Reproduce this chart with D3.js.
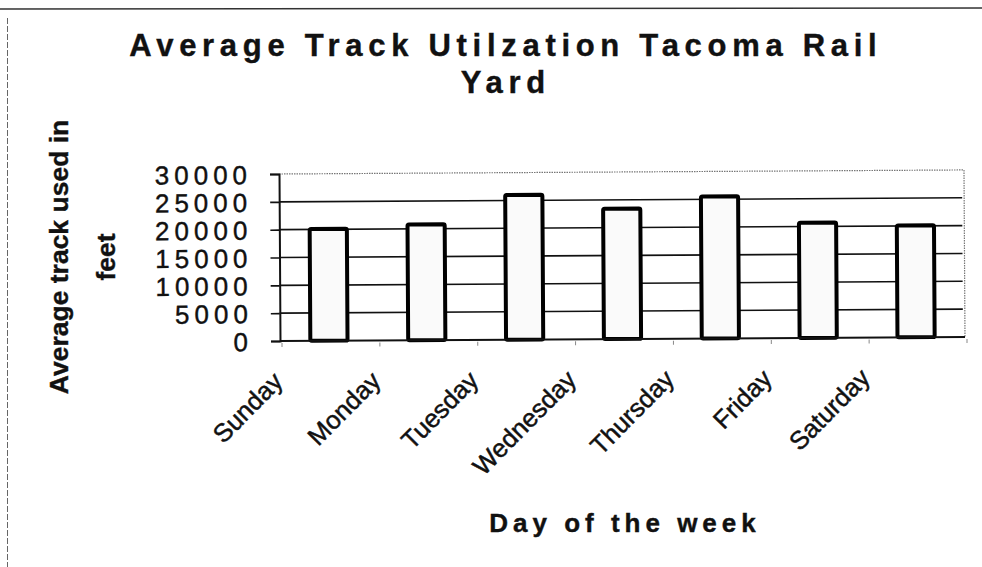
<!DOCTYPE html>
<html>
<head>
<meta charset="utf-8">
<script src="https://cdn.jsdelivr.net/npm/d3@7"></script>
<style>
  html, body { margin: 0; padding: 0; background: #ffffff; }
  svg { display: block; }
  text { font-family: "Liberation Sans", Arial, sans-serif; fill: #111; }
</style>
</head>
<body>
<script>
// ---- data ----
const categories = ["Sunday", "Monday", "Tuesday", "Wednesday", "Thursday", "Friday", "Saturday"];
const values = [20100, 20800, 26000, 23400, 25500, 20700, 20100];
const yTicks = [0, 5000, 10000, 15000, 20000, 25000, 30000];
const titleLines = ["Average Track Utilzation Tacoma Rail", "Yard"];
const yTitleLines = ["Average track used in", "feet"];
const xTitle = "Day of the week";

const W = 982, H = 567;
const plot = { left: 280, right: 965, top: 174, bottom: 341 };

const svg = d3.select("body").append("svg").attr("width", W).attr("height", H);

// outer frame (scan edges)
svg.append("line").attr("x1", 0).attr("x2", W).attr("y1", 9).attr("y2", 8)
  .attr("stroke", "#333").attr("stroke-width", 1.6);
svg.append("line").attr("x1", 7.5).attr("x2", 7.5).attr("y1", 18).attr("y2", H)
  .attr("stroke", "#666").attr("stroke-width", 1).attr("stroke-dasharray", "6,2");

// title
svg.append("g").selectAll("text").data(titleLines).join("text")
  .attr("x", 503 + 2.8).attr("y", (d, i) => 56 + i * 36.7)
  .attr("text-anchor", "middle")
  .style("font-size", "31px").style("font-weight", "bold").style("letter-spacing", "5.7px")
  .attr("stroke", "#111").attr("stroke-width", 0.4)
  .text(d => d);

// scales
const x = d3.scaleBand().domain(categories).range([plot.left, plot.right])
  .paddingInner(0.62).paddingOuter(0.31);
const y = d3.scaleLinear().domain([0, 30000]).range([plot.bottom, plot.top]);

const g = svg.append("g").attr("transform", `rotate(-0.34, ${plot.left}, ${plot.bottom})`);

// plot area border (top + right, dotted grey)
g.append("path")
  .attr("d", `M${plot.left},${y(30000)}H${plot.right}V${y(0)}`)
  .attr("fill", "none").attr("stroke", "#777").attr("stroke-width", 1.2)
  .attr("stroke-dasharray", "1.5,1");

// gridlines
g.append("g").selectAll("line").data(yTicks.filter(t => t > 0 && t < 30000)).join("line")
  .attr("x1", plot.left).attr("x2", plot.right - 2)
  .attr("y1", d => y(d)).attr("y2", d => y(d))
  .attr("stroke", "#111").attr("stroke-width", 1.6);

// y axis
const yAxis = d3.axisLeft(y).tickValues(yTicks).tickSize(9).tickPadding(18).tickFormat(d3.format("d"));
const ya = g.append("g").attr("transform", `translate(${plot.left},0)`).call(yAxis);
ya.select(".domain").attr("stroke", "#111").attr("stroke-width", 2);
ya.selectAll(".tick line").attr("stroke", "#111").attr("stroke-width", 1.6);
ya.selectAll(".tick text")
  .style("font-size", "26px").style("letter-spacing", "5px")
  .style("font-family", "'Liberation Sans', Arial, sans-serif").attr("fill", "#111")
  .attr("stroke", "#111").attr("stroke-width", 0.4)
  .attr("dy", "0.36em");

// bars
g.append("g").selectAll("rect").data(categories).join("rect")
  .attr("x", d => x(d))
  .attr("y", (d, i) => y(values[i]))
  .attr("width", x.bandwidth())
  .attr("height", (d, i) => y(0) - y(values[i]))
  .attr("rx", 1.5)
  .attr("fill", "#fafafa").attr("stroke", "#000").attr("stroke-width", 4);

// baseline
g.append("line").attr("x1", plot.left).attr("x2", plot.right)
  .attr("y1", y(0)).attr("y2", y(0)).attr("stroke", "#111").attr("stroke-width", 2);

// category boundary tick marks
const bounds = categories.map(c => x(c) + x.bandwidth() / 2 - x.step() / 2).concat([plot.right]);
g.append("g").selectAll("line").data(bounds).join("line")
  .attr("x1", d => d + 2).attr("x2", d => d + 2)
  .attr("y1", y(0) + 2).attr("y2", y(0) + 6)
  .attr("stroke", "#888").attr("stroke-width", 1);

// x labels (rotated)
g.append("g").selectAll("text").data(categories).join("text")
  .attr("transform", d => `translate(${x(d) + x.bandwidth() / 2 - x.step() / 2 + 4},${y(0) + 42}) rotate(-45)`)
  .attr("text-anchor", "end")
  .style("font-size", "25.5px")
  .attr("stroke", "#111").attr("stroke-width", 0.5)
  .text(d => d);

// x title
svg.append("text")
  .attr("x", (plot.left + plot.right) / 2 + 2.5).attr("y", 531.7)
  .attr("text-anchor", "middle")
  .style("font-size", "26px").style("font-weight", "bold").style("letter-spacing", "5px")
  .attr("stroke", "#111").attr("stroke-width", 0.4)
  .text(xTitle);

// y title (two lines, rotated)
svg.append("g").selectAll("text").data(yTitleLines).join("text")
  .attr("transform", (d, i) => `translate(${68 + i * 47},257) rotate(-90)`)
  .attr("text-anchor", "middle")
  .style("font-size", "26.5px").style("font-weight", "bold")
  .attr("stroke", "#111").attr("stroke-width", 0.4)
  .text(d => d);
</script>
</body>
</html>
